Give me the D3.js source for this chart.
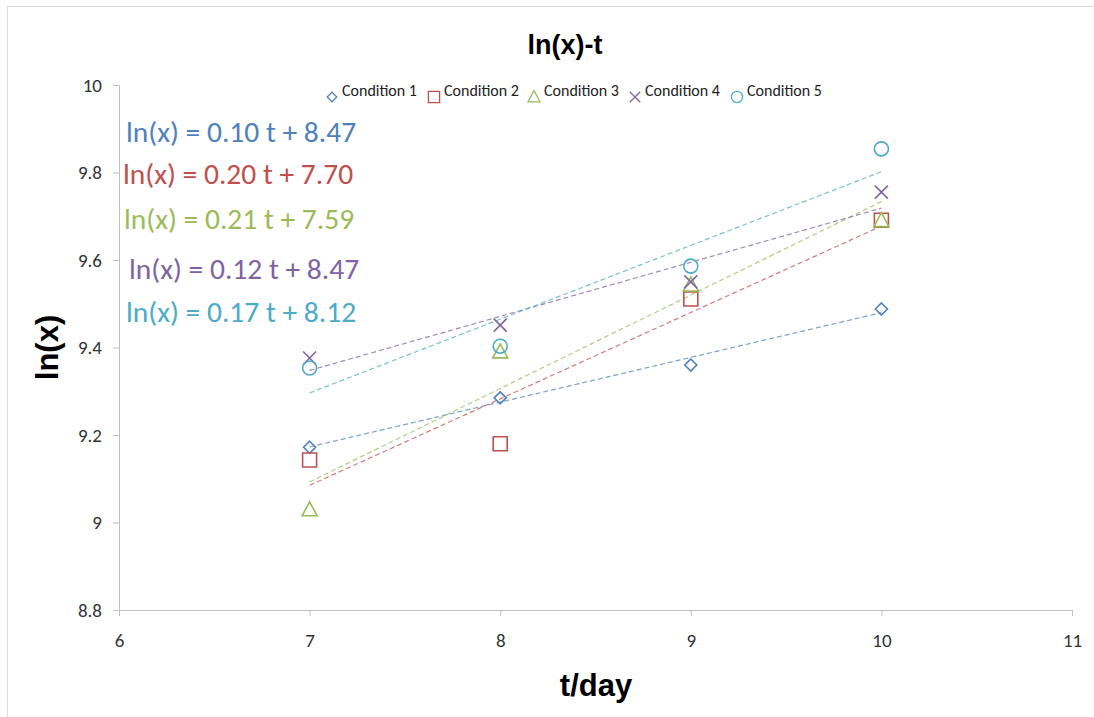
<!DOCTYPE html>
<html>
<head>
<meta charset="utf-8">
<script src="https://cdn.jsdelivr.net/npm/d3@7"></script>
<style>
  body { margin: 0; background: #fff; }
  .axis path, .axis line { stroke: #bfbfbf; }
</style>
</head>
<body>
<div id="chart"></div>
<script>
// days on the x axis
const days = [7, 8, 9, 10];
const seriesNames = ['Condition 1', 'Condition 2', 'Condition 3', 'Condition 4', 'Condition 5'];
const cond1 = [9.172, 9.285, 9.360, 9.488];
const cond2 = [9.143, 9.180, 9.511, 9.691];
const cond3 = [9.029, 9.390, 9.543, 9.690];
const cond4 = [9.376, 9.451, 9.550, 9.755];
const cond5 = [9.353, 9.403, 9.586, 9.854];
const equations = [
  'ln(x) = 0.10 t + 8.47',
  'ln(x) = 0.20 t + 7.70',
  'ln(x) = 0.21 t + 7.59',
  'ln(x) = 0.12 t + 8.47',
  'ln(x) = 0.17 t + 8.12'
];
const xTicks = [6, 7, 8, 9, 10, 11];
const yTicks = [8.8, 9, 9.2, 9.4, 9.6, 9.8, 10];

const colors = ['#4f81bd', '#c0504d', '#9bbb59', '#8064a2', '#4bacc6'];
const shapes = ['diamond', 'square', 'triangle', 'cross', 'circle'];
const allSeries = [cond1, cond2, cond3, cond4, cond5];

const width = 1094, height = 717;
const margin = {left: 119, right: 22, top: 85, bottom: 107};
const plotW = width - margin.left - margin.right;
const plotH = height - margin.top - margin.bottom;
const bodyFont = "Carlito, Lato, 'Open Sans', sans-serif";

const svg = d3.select('#chart').append('svg')
  .attr('width', width)
  .attr('height', height);

// outer chart frame
svg.append('rect')
  .attr('x', 7.5).attr('y', 6.5)
  .attr('width', width + 10).attr('height', height + 10)
  .attr('fill', '#fff').attr('stroke', '#d9d9d9');

const x = d3.scaleLinear().domain([6, 11]).range([0, plotW]);
const y = d3.scaleLinear().domain([8.8, 10]).range([plotH, 0]);

const g = svg.append('g').attr('transform', `translate(${margin.left},${margin.top})`);

const xAxis = g.append('g').attr('class', 'axis')
  .attr('transform', `translate(0,${plotH})`)
  .call(d3.axisBottom(x).tickValues(xTicks).tickSize(6).tickPadding(18).tickFormat(d3.format('d')))
  .call(a => a.select('.domain').attr('d', `M0.5,${6}V0.5H${plotW + 0.5}V6`));

const yAxis = g.append('g').attr('class', 'axis')
  .call(d3.axisLeft(y).tickValues(yTicks).tickSize(6).tickPadding(11).tickFormat(d => d3.format('')(d)))
  .call(a => a.select('.domain').attr('d', `M-6,0.5H0.5V${plotH + 0.5}`));

[xAxis, yAxis].forEach(a => {
  a.attr('font-size', 19).attr('font-family', bodyFont);
  a.selectAll('text')
    .style('font-family', bodyFont)
    .style('font-size', '19px')
    .attr('fill', '#333');
});

function symbolPath(shape) {
  if (shape === 'diamond') return 'M0,-6L6,0L0,6L-6,0Z';
  if (shape === 'square') return 'M-7,-7H7V7H-7Z';
  if (shape === 'triangle') return 'M0,-8L7.5,6H-7.5Z';
  if (shape === 'cross') return 'M-6.5,-6.5L6.5,6.5M-6.5,6.5L6.5,-6.5';
  return null;
}

function drawMarker(sel, shape, color) {
  if (shape === 'circle') {
    sel.append('circle').attr('r', 7).attr('fill', 'none')
      .attr('stroke', color).attr('stroke-width', 1.6);
  } else {
    sel.append('path').attr('d', symbolPath(shape)).attr('fill', 'none')
      .attr('stroke', color).attr('stroke-width', 1.6);
  }
}

// linear least squares trend lines
function fit(vals) {
  const mx = d3.mean(days), my = d3.mean(vals);
  let num = 0, den = 0;
  days.forEach((t, i) => { num += (t - mx) * (vals[i] - my); den += (t - mx) * (t - mx); });
  const b = num / den;
  return {b: b, a: my - b * mx};
}

allSeries.forEach((vals, i) => {
  const f = fit(vals);
  const t0 = d3.min(days), t1 = d3.max(days);
  g.append('line')
    .attr('x1', x(t0)).attr('y1', y(f.a + f.b * t0))
    .attr('x2', x(t1)).attr('y2', y(f.a + f.b * t1))
    .attr('stroke', colors[i]).attr('stroke-width', 1.2)
    .attr('stroke-opacity', 0.75)
    .attr('stroke-dasharray', '5,3');
});

allSeries.forEach((vals, i) => {
  vals.forEach((v, j) => {
    const m = g.append('g').attr('transform', `translate(${x(days[j])},${y(v)})`);
    drawMarker(m, shapes[i], colors[i]);
  });
});

// legend
const legendX = [332, 434, 534, 635, 737];
seriesNames.forEach((name, i) => {
  const lg = svg.append('g').attr('transform', `translate(${legendX[i]},97)`);
  const s = lg.append('g').attr('transform', 'scale(0.8)');
  drawMarker(s, shapes[i], colors[i]);
  lg.append('text').attr('x', 10).attr('y', -1)
    .attr('font-family', bodyFont)
    .attr('font-size', 16).attr('fill', '#222')
    .text(name);
});

// equation labels
const eqPos = [[126, 142], [123, 184], [124, 229], [129, 279], [126, 322]];
equations.forEach((eq, i) => {
  svg.append('text')
    .attr('x', eqPos[i][0]).attr('y', eqPos[i][1])
    .attr('font-family', bodyFont)
    .attr('font-size', 29.5).attr('fill', colors[i])
    .text(eq);
});

// titles
const titleFont = "'Liberation Sans Narrow', 'Arial Narrow', 'Liberation Sans', sans-serif";
svg.append('text')
  .attr('x', 565).attr('y', 54)
  .attr('text-anchor', 'middle')
  .attr('font-family', titleFont).attr('font-weight', 'bold')
  .attr('font-size', 27).attr('fill', '#000')
  .text('ln(x)-t');

svg.append('text')
  .attr('transform', `translate(58,${margin.top + plotH / 2}) rotate(-90)`)
  .attr('text-anchor', 'middle')
  .attr('font-family', titleFont).attr('font-weight', 'bold')
  .attr('font-size', 31).attr('fill', '#000')
  .text('ln(x)');

svg.append('text')
  .attr('x', 596).attr('y', 696)
  .attr('text-anchor', 'middle')
  .attr('font-family', titleFont).attr('font-weight', 'bold')
  .attr('font-size', 31).attr('fill', '#000')
  .text('t/day');
</script>
</body>
</html>
